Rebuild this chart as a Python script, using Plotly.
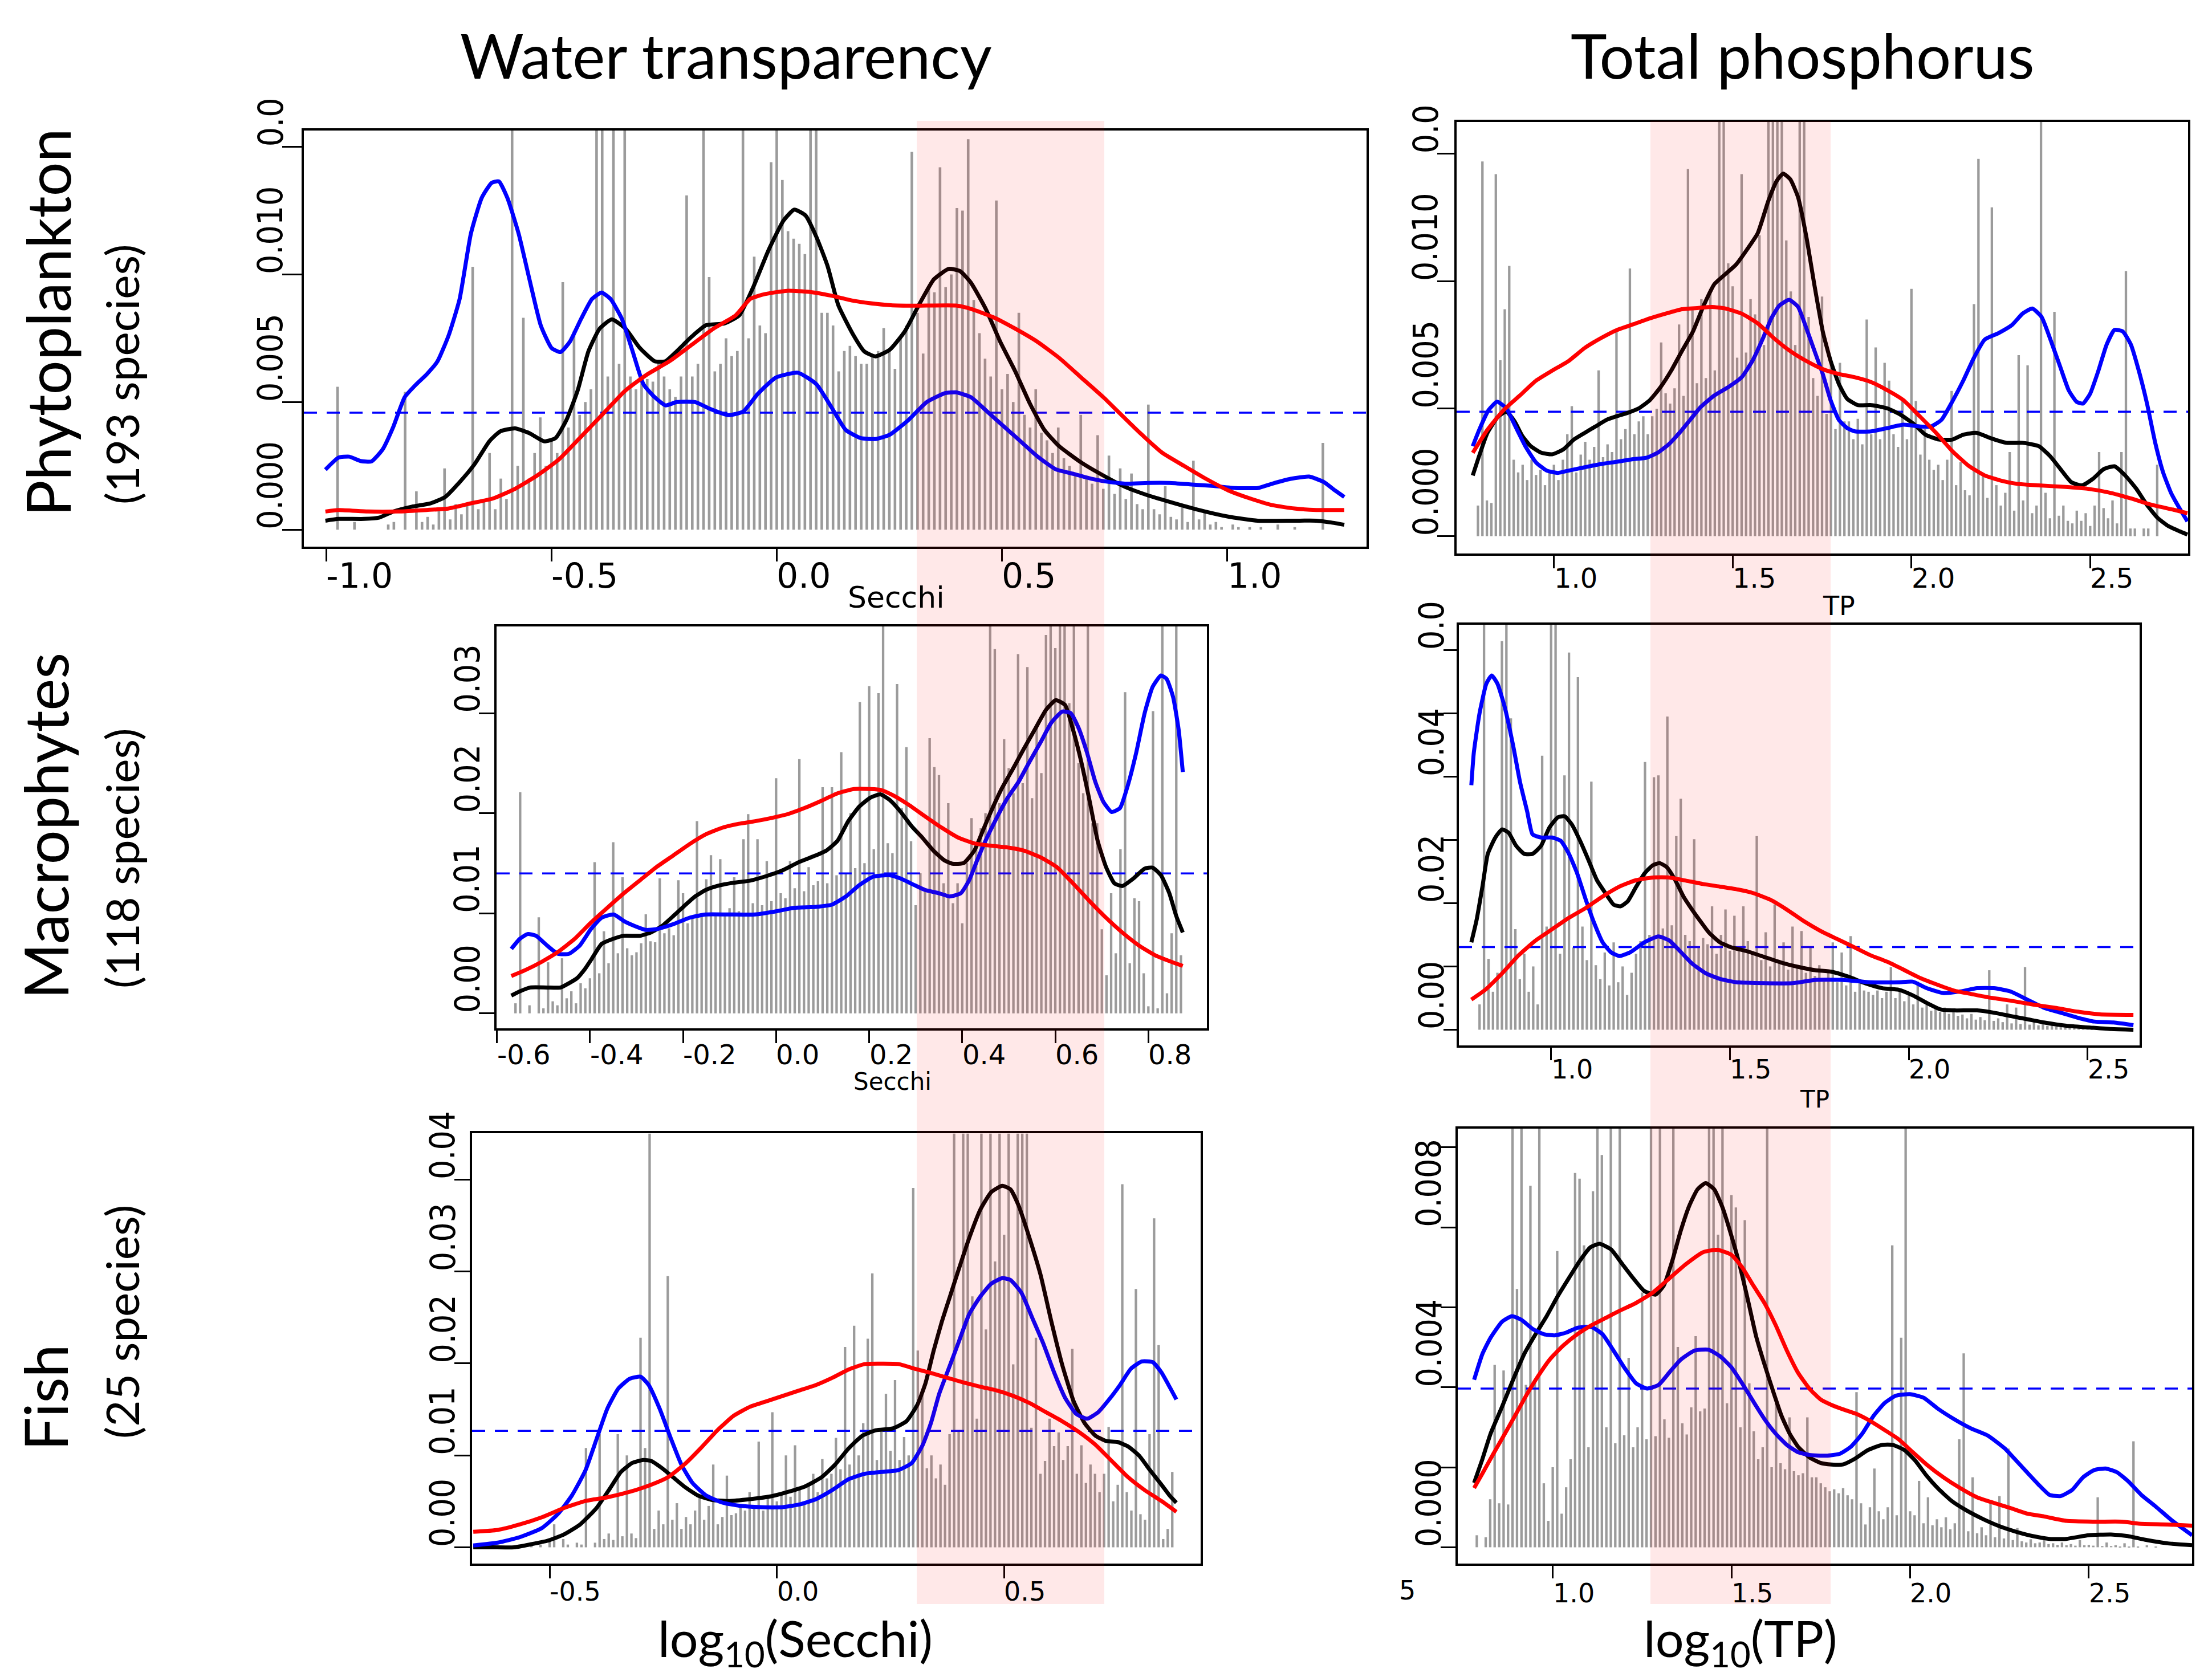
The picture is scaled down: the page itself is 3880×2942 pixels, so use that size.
import plotly.graph_objects as go

W, H = 3880, 2942

# ------------------------------------------------------------------ data
# Gray bars: first bin centre, bin width, unit of the listed heights
P1_BINS = (-0.975, 0.0125, 1e-4)
P1_BARS = [56,0,0,3,0,0,0,0, 0,2,3,0,54,0,15,3, 5,2,8,24,4,10,6,10, 103,8,12,30,8,20,12,170,
           25,83,20,30,44,25,35,30, 97,40,78,45,50,55,170,170, 60,170,65,170,60,55,60,59,
           58,66,60,55,52,60,131,60, 65,170,99,62,65,75,68,70, 170,75,107,80,77,144,170,137,
           117,114,112,108,170,170,85,85, 80,62,70,72,68,65,65,68, 70,79,70,63,75,80,148,85,
           69,95,93,142,95,100,126,125, 153,90,77,67,60,129,55,61, 50,85,45,40,55,38,35,30,
           40,28,25,22,45,20,18,37, 16,29,14,24,12,22,10,8, 49,8,6,17,5,4,10,3,
           27,4,7,2,3,1,0,2, 1,0,1,0,1,0,0,2, 0,0,1,0,0,0,0,34, 0]
P2_BINS = (0.7875, 0.0125, 1e-4)
P2_BARS = [12,147,14,13,142,69,89,106, 30,25,28,22,30,24,26,20, 25,28,22,30,40,51,25,32,
           37,30,35,65,31,36,33,80, 38,42,105,40,45,47,40,47, 50,76,56,52,58,83,55,144,
           90,60,93,62,97,65,170,170, 107,98,70,142,72,93,87,118, 75,170,170,170,170,116,96,75,
           170,170,86,62,55,94,48,69, 42,68,45,45,38,46,36,85, 40,74,38,68,61,40,35,53,
           38,97,53,32,42,30,26,28, 22,30,57,20,29,18,16,91, 148,24,15,129,20,12,17,33,
           10,71,14,67,9,12,170,17, 7,88,8,12,6,5,10,6, 9,4,12,33,11,7,14,5,
           33,104,3,3,0,3,3,0, 28]
P3_BINS = (-0.56, 0.01, 1e-4)
P3_BARS = [10,221,0,8,0,96,5,51, 12,8,55,15,22,10,30,25, 35,151,40,82,50,171,60,136,
           65,58,61,70,99,72,71,135, 80,85,78,133,120,90,95,192, 100,134,158,98,154,100,105,136,
           102,174,199,110,174,108,152,112, 235,120,115,152,125,254,122,146,
           128,132,226,130,226,138,261,140, 200,145,311,150,327,164,320,400,
           170,160,329,205,266,172,108,140, 125,275,246,238,130,210,110,130,
           90,150,195,165,185,200,400,364, 210,274,245,220,359,230,346,215,
           285,240,378,400,365,400,400,310, 400,250,220,400,190,190,84,38,
           120,60,164,321,50,115,112,40, 7,302,5,400,20,80,400,58]
P4_BINS = (0.80, 0.0125, 1e-4)
P4_BARS = [40,650,112,60,90,614,650,492, 159,80,120,60,100,40,433,163, 650,650,120,402,596,130,557,163,
           110,392,102,80,122,70,138,75, 100,55,90,120,140,423,150,399, 402,160,495,165,306,365,150,140,
           301,130,145,135,195,120,150,190, 125,180,130,195,140,120,306,110,
           154,100,198,105,138,95,163,100, 156,90,130,85,102,80,95,138, 75,122,70,148,60,75,62,60,
           55,62,50,60,99,50,60,45, 55,40,76,35,42,30,35,28, 35,25,30,22,24,18,25,16,
           20,15,94,14,18,12,40,10, 35,9,99,8,14,7,12,6, 8,5,10,4,6,3,5,6, 3,2,4,2,3,1,2,1, 2]
P5_BINS = (-0.60, 0.01, 1e-4)
P5_BARS = [0,0,0,0,0,0,2,0, 3,0,9,25,0,9,3,0, 5,3,108,0,5,123,9,15, 8,123,12,100,15,10,228,108,
           450,20,40,25,295,30,48,20, 33,25,40,56,30,45,90,25, 33,78,35,37,45,40,60,45,
           115,40,55,147,50,60,100,55, 111,65,48,70,80,60,96,75, 80,119,85,218,90,241,100,135,
           227,298,95,128,167,105,182,95, 120,100,391,214,167,86,100,75, 90,68,123,450,127,450,450,273,
           140,450,237,450,311,450,340,450, 199,450,450,450,130,228,80,94, 140,110,125,95,110,216,80,111,
           70,90,80,60,80,131,50,68, 395,60,40,281,36,30,123,358, 220,9,20,82]
P6_BINS = (0.7875, 0.0125, 1e-5)
P6_BARS = [30,0,25,120,456,110,442,107, 1200,646,1200,406,904,415,1200,160, 66,200,741,84,150,220,936,922,
           755,250,890,1200,981,300,1200,260, 1200,280,474,250,300,637,270,1200,
           278,1200,320,274,1200,501,310,282, 350,528,340,347,1200,1200,782,1200,
           360,881,850,300,818,410,290,220, 250,1200,200,365,210,195,325,190,
           180,185,325,175,175,160,150,140, 145,135,148,130,120,388,110,57,
           100,197,90,70,100,755,80,524, 1200,90,80,166,60,125,55,70, 50,75,45,60,270,485,40,175,
           35,50,30,110,25,128,22,247, 18,48,15,12,20,10,12,20, 8,10,6,12,5,8,4,18,
           5,6,4,125,3,12,3,5, 2,10,2,265,2,0,5,0, 2]

# Curves: (x, density)
P1_BLACK = [(-1.002,0.00035),(-0.973,0.00042),(-0.916,0.00042),(-0.883,0.00047),(-0.851,0.00071),(-0.81,0.0009),
            (-0.769,0.00103),(-0.736,0.00128),(-0.704,0.00186),(-0.671,0.00256),(-0.638,0.00346),(-0.614,0.00385),
            (-0.581,0.00397),(-0.549,0.00378),(-0.516,0.00346),(-0.491,0.00359),(-0.467,0.00429),(-0.442,0.00545),
            (-0.418,0.00699),(-0.393,0.00788),(-0.366,0.00824),(-0.336,0.00788),(-0.304,0.00712),(-0.271,0.0066),
            (-0.247,0.0066),(-0.222,0.00699),(-0.189,0.00756),(-0.157,0.00801),(-0.116,0.00808),(-0.083,0.0084),
            (-0.051,0.00955),(-0.018,0.01096),(0.015,0.01211),(0.039,0.01254),(0.064,0.01231),(0.088,0.01147),
            (0.113,0.01032),(0.137,0.00878),(0.17,0.00763),(0.194,0.00699),(0.219,0.00679),(0.251,0.00705),
            (0.284,0.00776),(0.317,0.00885),(0.349,0.00981),(0.382,0.01022),(0.407,0.01013),(0.431,0.00968),
            (0.464,0.00865),(0.496,0.00737),(0.529,0.00622),(0.562,0.00494),(0.594,0.00391),(0.627,0.00327),
            (0.676,0.00263),(0.725,0.00212),(0.774,0.00167),(0.823,0.00135),(0.872,0.00109),(0.937,0.00077),
            (1.002,0.00051),(1.068,0.00035),(1.149,0.00035),(1.198,0.00035),(1.231,0.00028),(1.26,0.00019)]
P1_BLUE = [(-1.002,0.00235),(-0.973,0.00282),(-0.949,0.00286),(-0.924,0.00269),(-0.9,0.00267),(-0.875,0.00314),
           (-0.851,0.00404),(-0.826,0.00519),(-0.80,0.0057),(-0.777,0.00609),(-0.753,0.0066),(-0.728,0.00763),
           (-0.704,0.00904),(-0.679,0.0116),(-0.655,0.0130),(-0.633,0.01359),(-0.617,0.01365),(-0.598,0.0130),
           (-0.573,0.0116),(-0.549,0.00981),(-0.524,0.00801),(-0.50,0.00712),(-0.48,0.00696),(-0.459,0.00737),
           (-0.434,0.00827),(-0.41,0.00904),(-0.389,0.00929),(-0.369,0.00904),(-0.344,0.00827),(-0.32,0.00699),
           (-0.296,0.0057),(-0.271,0.00519),(-0.247,0.00487),(-0.222,0.005),(-0.181,0.005),(-0.149,0.00474),
           (-0.108,0.00449),(-0.075,0.00462),(-0.042,0.00532),(-0.002,0.00596),(0.047,0.00615),(0.088,0.0057),
           (0.121,0.00481),(0.153,0.00391),(0.186,0.00359),(0.219,0.00355),(0.251,0.00372),(0.292,0.00429),
           (0.333,0.005),(0.374,0.00535),(0.398,0.00538),(0.431,0.00519),(0.464,0.00468),(0.496,0.00417),
           (0.537,0.00353),(0.578,0.00288),(0.619,0.00237),(0.66,0.00218),(0.70,0.00199),(0.741,0.00186),
           (0.782,0.0018),(0.823,0.00183),(0.872,0.00183),(0.921,0.00177),(0.97,0.00171),(1.019,0.00163),
           (1.068,0.00163),(1.10,0.0018),(1.141,0.00199),(1.182,0.00208),(1.215,0.00186),(1.239,0.00154),(1.26,0.00128)]
P1_RED = [(-1.002,0.00071),(-0.973,0.00077),(-0.908,0.00071),(-0.842,0.00071),(-0.777,0.00077),(-0.728,0.00083),
          (-0.679,0.00103),(-0.63,0.00122),(-0.581,0.0016),(-0.532,0.00212),(-0.483,0.00276),(-0.434,0.00365),
          (-0.385,0.00455),(-0.336,0.00545),(-0.287,0.00609),(-0.238,0.0066),(-0.189,0.00724),(-0.14,0.00788),
          (-0.091,0.0084),(-0.059,0.00904),(-0.026,0.00923),(0.023,0.00936),(0.072,0.00932),(0.121,0.00917),
          (0.17,0.00897),(0.219,0.00885),(0.268,0.00878),(0.333,0.00878),(0.398,0.00878),(0.431,0.00865),
          (0.48,0.00833),(0.529,0.00788),(0.578,0.00737),(0.627,0.00673),(0.676,0.00596),(0.725,0.00519),
          (0.758,0.00462),(0.807,0.00378),(0.856,0.00301),(0.904,0.0025),(0.953,0.00199),(1.002,0.00154),
          (1.051,0.00122),(1.10,0.00096),(1.149,0.00083),(1.198,0.00077),(1.26,0.00077)]

P2_BLACK = [(0.773,0.00238),(0.791,0.00315),(0.814,0.00405),(0.844,0.00469),(0.867,0.00488),(0.89,0.0045),
            (0.912,0.00392),(0.935,0.00353),(0.965,0.00327),(0.995,0.00321),(1.026,0.0034),(1.056,0.00379),
            (1.086,0.00405),(1.116,0.0043),(1.147,0.00456),(1.177,0.00471),(1.207,0.00484),(1.237,0.00501),
            (1.268,0.00533),(1.298,0.00584),(1.328,0.00649),(1.358,0.00726),(1.389,0.00803),(1.419,0.00905),
            (1.449,0.00989),(1.479,0.01027),(1.51,0.01066),(1.54,0.01124),(1.57,0.01188),(1.6,0.01316),
            (1.623,0.01393),(1.641,0.01422),(1.661,0.014),(1.683,0.01329),(1.706,0.01175),(1.729,0.00982),
            (1.752,0.00803),(1.774,0.00687),(1.797,0.00597),(1.82,0.00539),(1.85,0.00514),(1.888,0.00514),
            (1.933,0.00501),(1.971,0.00475),(2.009,0.00437),(2.039,0.00398),(2.077,0.00379),(2.115,0.00379),
            (2.145,0.00398),(2.183,0.00405),(2.22,0.00385),(2.266,0.00366),(2.311,0.00366),(2.356,0.00353),
            (2.387,0.00315),(2.417,0.00263),(2.447,0.00212),(2.477,0.00199),(2.508,0.00225),(2.538,0.00263),
            (2.568,0.00274),(2.598,0.00238),(2.629,0.00186),(2.659,0.00122),(2.689,0.00071),(2.719,0.00039),
            (2.75,0.00019),(2.772,0.00006)]
P2_BLUE = [(0.773,0.00353),(0.791,0.00417),(0.817,0.00494),(0.841,0.00527),(0.867,0.00501),(0.89,0.00437),
           (0.92,0.00353),(0.95,0.00289),(0.98,0.00257),(1.011,0.00248),(1.041,0.00257),(1.086,0.0027),
           (1.132,0.00283),(1.177,0.00292),(1.222,0.00302),(1.26,0.00308),(1.29,0.00327),(1.321,0.0036),
           (1.351,0.00405),(1.381,0.00456),(1.411,0.00507),(1.449,0.00552),(1.487,0.00584),(1.525,0.00623),
           (1.555,0.00687),(1.585,0.00777),(1.608,0.00854),(1.631,0.00905),(1.658,0.00927),(1.683,0.00899),
           (1.706,0.00816),(1.729,0.00726),(1.752,0.00636),(1.774,0.00533),(1.797,0.00456),(1.82,0.00424),
           (1.842,0.00411),(1.888,0.00411),(1.933,0.00424),(1.978,0.00437),(2.024,0.0043),(2.054,0.0043),
           (2.084,0.00456),(2.114,0.00527),(2.145,0.0061),(2.175,0.007),(2.205,0.00771),(2.243,0.00796),
           (2.281,0.00828),(2.311,0.00873),(2.338,0.00893),(2.364,0.0086),(2.394,0.00751),(2.417,0.00661),
           (2.44,0.00572),(2.462,0.00527),(2.48,0.0052),(2.5,0.00559),(2.523,0.00649),(2.546,0.00751),
           (2.568,0.00809),(2.591,0.00803),(2.614,0.00751),(2.636,0.00649),(2.659,0.0052),(2.682,0.00366),
           (2.704,0.0025),(2.727,0.00167),(2.75,0.00109),(2.772,0.00058)]
P2_RED = [(0.773,0.00327),(0.814,0.00417),(0.859,0.00494),(0.905,0.00552),(0.95,0.0061),(0.995,0.00649),
          (1.041,0.00687),(1.086,0.00738),(1.132,0.00777),(1.177,0.00809),(1.222,0.00831),(1.268,0.00854),
          (1.313,0.00873),(1.358,0.0089),(1.404,0.00895),(1.442,0.00899),(1.479,0.00893),(1.525,0.00873),
          (1.57,0.00835),(1.615,0.00777),(1.661,0.00726),(1.706,0.00687),(1.752,0.00655),(1.797,0.00636),
          (1.842,0.00623),(1.888,0.00604),(1.933,0.00572),(1.978,0.00533),(2.024,0.00469),(2.069,0.00405),
          (2.114,0.00334),(2.16,0.00276),(2.205,0.00238),(2.25,0.00218),(2.296,0.00205),(2.356,0.00199),
          (2.432,0.00193),(2.492,0.00186),(2.553,0.00171),(2.614,0.00148),(2.674,0.00122),(2.735,0.00103),
          (2.772,0.0009)]

P3_BLACK = [(-0.569,0.00177),(-0.551,0.00219),(-0.528,0.00258),(-0.492,0.00258),(-0.463,0.00258),(-0.445,0.00301),
            (-0.428,0.0035),(-0.41,0.00448),(-0.396,0.00546),(-0.375,0.00693),(-0.351,0.00743),(-0.327,0.00775),
            (-0.292,0.00775),(-0.269,0.00808),(-0.245,0.00873),(-0.221,0.00971),(-0.198,0.0107),(-0.174,0.01168),
            (-0.151,0.01233),(-0.127,0.01272),(-0.092,0.01305),(-0.057,0.01325),(-0.021,0.01371),(0.014,0.01429),
            (0.049,0.01511),(0.085,0.01577),(0.108,0.01626),(0.132,0.01724),(0.155,0.0192),(0.179,0.02067),
            (0.203,0.02156),(0.224,0.02188),(0.244,0.02133),(0.267,0.02018),(0.291,0.01871),(0.314,0.01757),
            (0.338,0.01626),(0.362,0.01528),(0.379,0.01495),(0.403,0.01501),(0.426,0.01626),(0.444,0.01822),
            (0.462,0.02018),(0.485,0.02247),(0.509,0.02443),(0.532,0.0264),(0.556,0.02836),(0.58,0.03032),
            (0.601,0.0313),(0.621,0.03081),(0.638,0.02836),(0.656,0.02509),(0.674,0.02116),(0.691,0.01724),
            (0.709,0.01462),(0.727,0.01299),(0.744,0.01272),(0.768,0.01348),(0.792,0.01446),(0.809,0.01456),
            (0.827,0.0138),(0.845,0.012),(0.86,0.00971),(0.874,0.00808)]
P3_BLUE = [(-0.569,0.00644),(-0.551,0.00743),(-0.534,0.00792),(-0.516,0.00775),(-0.492,0.00677),(-0.469,0.00595),
           (-0.445,0.00595),(-0.422,0.00677),(-0.398,0.00841),(-0.375,0.00955),(-0.349,0.00988),(-0.327,0.00922),
           (-0.304,0.00873),(-0.28,0.00834),(-0.257,0.00841),(-0.221,0.0089),(-0.186,0.00955),(-0.151,0.00988),
           (-0.104,0.00988),(-0.045,0.00988),(0.002,0.01021),(0.038,0.01053),(0.085,0.01063),(0.12,0.01086),
           (0.15,0.01168),(0.179,0.01282),(0.208,0.01364),(0.244,0.0138),(0.267,0.01348),(0.297,0.01282),
           (0.32,0.01233),(0.35,0.012),(0.373,0.01168),(0.397,0.012),(0.415,0.01331),(0.432,0.01528),
           (0.45,0.01724),(0.474,0.01953),(0.497,0.02149),(0.521,0.02313),(0.544,0.02509),(0.568,0.02705),
           (0.591,0.02901),(0.615,0.03016),(0.633,0.03),(0.65,0.02852),(0.668,0.02607),(0.686,0.02313),
           (0.703,0.02116),(0.721,0.02012),(0.739,0.02051),(0.756,0.0228),(0.774,0.02607),(0.792,0.03),
           (0.809,0.03261),(0.827,0.03376),(0.839,0.03343),(0.853,0.03163),(0.865,0.02836),(0.874,0.02411)]
P3_RED = [(-0.569,0.00373),(-0.539,0.00432),(-0.504,0.00514),(-0.469,0.00612),(-0.433,0.00743),(-0.398,0.00906),
          (-0.363,0.01053),(-0.327,0.012),(-0.292,0.01331),(-0.257,0.01462),(-0.221,0.01577),(-0.186,0.01691),
          (-0.151,0.01789),(-0.115,0.01855),(-0.08,0.01894),(-0.045,0.0192),(-0.009,0.01953),(0.026,0.01992),
          (0.061,0.02051),(0.097,0.02123),(0.132,0.02198),(0.167,0.02241),(0.203,0.02241),(0.226,0.02231),
          (0.25,0.02182),(0.285,0.02084),(0.32,0.01969),(0.356,0.01855),(0.391,0.01757),(0.426,0.01698),
          (0.462,0.01675),(0.497,0.01658),(0.532,0.01626),(0.568,0.0156),(0.603,0.01462),(0.638,0.01299),
          (0.674,0.01119),(0.709,0.00955),(0.744,0.00808),(0.78,0.00677),(0.815,0.00579),(0.85,0.00514),
          (0.874,0.00474)]

P4_BLACK = [(0.777,0.01381),(0.792,0.01743),(0.808,0.02261),(0.823,0.02778),(0.844,0.03037),(0.863,0.03166),
            (0.881,0.03114),(0.902,0.02907),(0.925,0.02778),(0.948,0.02778),(0.972,0.02907),(0.995,0.03192),
            (1.019,0.03357),(1.038,0.03373),(1.058,0.03243),(1.081,0.02985),(1.105,0.02674),(1.128,0.02364),
            (1.152,0.02157),(1.175,0.01976),(1.194,0.0195),(1.214,0.02028),(1.238,0.02261),(1.261,0.02468),
            (1.284,0.02597),(1.303,0.02633),(1.323,0.02571),(1.347,0.02364),(1.37,0.02105),(1.394,0.01898),
            (1.417,0.01717),(1.441,0.01536),(1.472,0.01381),(1.503,0.01304),(1.55,0.01236),(1.597,0.01148),
            (1.644,0.0106),(1.691,0.00993),(1.738,0.00941),(1.784,0.00916),(1.831,0.00838),(1.878,0.00735),
            (1.925,0.00657),(1.972,0.00631),(2.011,0.00543),(2.05,0.00424),(2.089,0.00321),(2.128,0.00305),
            (2.191,0.00305),(2.238,0.00269),(2.284,0.00217),(2.331,0.00166),(2.378,0.00114),(2.441,0.00062),
            (2.503,0.00036),(2.566,0.0001),(2.628,0.0)]
P4_BLUE = [(0.777,0.03864),(0.784,0.04382),(0.8,0.05002),(0.819,0.05468),(0.834,0.05597),(0.85,0.05468),
           (0.87,0.05106),(0.894,0.04485),(0.913,0.03916),(0.933,0.0345),(0.948,0.03088),(0.972,0.03037),
           (1.003,0.03037),(1.027,0.02985),(1.05,0.02778),(1.073,0.02468),(1.097,0.02054),(1.12,0.01692),
           (1.144,0.01381),(1.167,0.01226),(1.191,0.01164),(1.222,0.01226),(1.261,0.01381),(1.3,0.01474),
           (1.331,0.01407),(1.363,0.01226),(1.394,0.01045),(1.433,0.0089),(1.472,0.00802),(1.519,0.0075),
           (1.597,0.00735),(1.675,0.00735),(1.738,0.00786),(1.816,0.00786),(1.894,0.0075),(1.972,0.0075),
           (2.011,0.0076),(2.05,0.00657),(2.097,0.00579),(2.144,0.00605),(2.191,0.00657),(2.238,0.00657),
           (2.284,0.00605),(2.331,0.00476),(2.378,0.00347),(2.425,0.00269),(2.472,0.00191),(2.519,0.00129),
           (2.573,0.00114),(2.628,0.00072)]
P4_RED = [(0.777,0.00476),(0.816,0.00631),(0.863,0.0089),(0.909,0.01174),(0.956,0.01407),(1.003,0.01588),
          (1.05,0.01769),(1.097,0.01924),(1.144,0.02105),(1.191,0.02261),(1.238,0.02364),(1.284,0.02405),
          (1.331,0.02405),(1.378,0.02354),(1.425,0.02302),(1.472,0.02261),(1.519,0.02219),(1.566,0.02157),
          (1.613,0.02054),(1.659,0.01898),(1.706,0.01717),(1.753,0.01562),(1.8,0.01433),(1.847,0.01304),
          (1.894,0.01174),(1.941,0.01071),(1.988,0.00941),(2.034,0.00812),(2.081,0.00709),(2.128,0.00616),
          (2.175,0.00564),(2.222,0.00512),(2.284,0.0046),(2.347,0.00398),(2.409,0.00347),(2.472,0.00285),
          (2.534,0.00243),(2.628,0.00233)]

P5_BLACK = [(-0.668,0.0),(-0.626,0.0),(-0.578,0.0),(-0.542,0.00032),(-0.505,0.00071),(-0.469,0.00138),
            (-0.433,0.00248),(-0.397,0.00426),(-0.367,0.00642),(-0.343,0.0082),(-0.318,0.00918),(-0.294,0.0095),
            (-0.276,0.00938),(-0.252,0.00859),(-0.228,0.00761),(-0.204,0.00662),(-0.174,0.00564),(-0.144,0.00516),
            (-0.107,0.00504),(-0.059,0.00524),(-0.011,0.00556),(0.025,0.00603),(0.062,0.00662),(0.098,0.00761),
            (0.128,0.00899),(0.158,0.01076),(0.188,0.01214),(0.218,0.01273),(0.255,0.01293),(0.285,0.01371),
            (0.309,0.01549),(0.327,0.01785),(0.345,0.0214),(0.363,0.02455),(0.381,0.02731),(0.399,0.03007),
            (0.423,0.03362),(0.448,0.03677),(0.472,0.03866),(0.496,0.03933),(0.514,0.03894),(0.532,0.03716),
            (0.556,0.03362),(0.58,0.02968),(0.604,0.02455),(0.628,0.01982),(0.653,0.01588),(0.677,0.01352),
            (0.701,0.01214),(0.725,0.01155),(0.749,0.01147),(0.773,0.01096),(0.797,0.00997),(0.821,0.00839),
            (0.846,0.00682),(0.864,0.00564),(0.879,0.00485)]
P5_BLUE = [(-0.668,0.0002),(-0.614,0.00051),(-0.566,0.0011),(-0.517,0.00209),(-0.481,0.00367),(-0.451,0.00564),
           (-0.421,0.00839),(-0.397,0.01174),(-0.373,0.01509),(-0.349,0.01726),(-0.324,0.01833),(-0.3,0.01856),
           (-0.282,0.01766),(-0.258,0.01509),(-0.234,0.01194),(-0.21,0.00899),(-0.186,0.00702),(-0.156,0.00564),
           (-0.119,0.00485),(-0.083,0.00453),(-0.035,0.00437),(0.013,0.00437),(0.049,0.00465),(0.086,0.00524),
           (0.122,0.00623),(0.158,0.00741),(0.194,0.008),(0.23,0.0082),(0.267,0.00839),(0.297,0.00918),
           (0.321,0.01115),(0.339,0.01352),(0.357,0.01667),(0.375,0.01903),(0.399,0.02219),(0.423,0.02534),
           (0.448,0.02731),(0.472,0.02869),(0.496,0.02928),(0.514,0.02908),(0.538,0.0277),(0.562,0.02495),
           (0.586,0.02219),(0.61,0.01903),(0.634,0.01628),(0.659,0.0145),(0.683,0.01399),(0.707,0.0147),
           (0.731,0.01608),(0.755,0.01766),(0.779,0.01943),(0.803,0.02022),(0.827,0.02014),(0.846,0.01903),
           (0.864,0.01746),(0.879,0.01608)]
P5_RED = [(-0.668,0.00169),(-0.614,0.00189),(-0.566,0.00248),(-0.517,0.00327),(-0.469,0.00426),(-0.421,0.00504),
          (-0.373,0.00544),(-0.324,0.00603),(-0.276,0.00682),(-0.24,0.00761),(-0.204,0.00899),(-0.168,0.01076),
          (-0.131,0.01273),(-0.095,0.01431),(-0.059,0.01529),(-0.023,0.01588),(0.013,0.01647),(0.049,0.01706),
          (0.086,0.01766),(0.122,0.01844),(0.158,0.01935),(0.194,0.01994),(0.23,0.01998),(0.267,0.01994),
          (0.303,0.01943),(0.339,0.01896),(0.375,0.01844),(0.411,0.01793),(0.448,0.01746),(0.484,0.01706),
          (0.52,0.01647),(0.556,0.01569),(0.592,0.0147),(0.628,0.01371),(0.665,0.01253),(0.701,0.01115),
          (0.737,0.00938),(0.773,0.00761),(0.809,0.00623),(0.846,0.00504),(0.879,0.00386)]

P6_BLACK = [(0.78,0.00161),(0.803,0.0022),(0.826,0.00284),(0.858,0.00351),(0.889,0.00419),(0.92,0.00483),
            (0.952,0.00533),(0.983,0.00578),(1.014,0.00628),(1.045,0.00673),(1.077,0.00718),(1.105,0.0075),
            (1.131,0.00759),(1.163,0.00745),(1.194,0.00709),(1.225,0.00673),(1.256,0.00641),(1.288,0.00632),
            (1.311,0.00655),(1.335,0.00718),(1.358,0.00791),(1.382,0.00854),(1.405,0.00895),(1.428,0.00911),
            (1.452,0.00895),(1.475,0.0085),(1.499,0.00782),(1.522,0.00709),(1.546,0.00619),(1.569,0.00528),
            (1.593,0.00456),(1.616,0.00392),(1.64,0.00329),(1.663,0.00284),(1.686,0.00252),(1.718,0.00225),
            (1.749,0.00211),(1.78,0.00207),(1.812,0.00207),(1.843,0.0022),(1.882,0.00243),(1.921,0.00256),
            (1.952,0.00256),(1.984,0.00243),(2.015,0.00216),(2.046,0.00179),(2.077,0.00148),(2.116,0.00116),
            (2.156,0.00093),(2.203,0.00071),(2.249,0.00053),(2.296,0.00039),(2.343,0.00028),(2.39,0.00021),
            (2.437,0.00021),(2.5,0.0003),(2.562,0.00032),(2.609,0.00028),(2.656,0.00019),(2.719,0.0001),
            (2.789,0.00005)]
P6_BLUE = [(0.78,0.00419),(0.803,0.00483),(0.826,0.00524),(0.858,0.00564),(0.886,0.00578),(0.912,0.00569),
           (0.944,0.00546),(0.975,0.00533),(1.006,0.0053),(1.038,0.00537),(1.069,0.00549),(1.108,0.00551),
           (1.139,0.00533),(1.17,0.00492),(1.202,0.00447),(1.233,0.0041),(1.264,0.00397),(1.296,0.00406),
           (1.327,0.00438),(1.358,0.00469),(1.397,0.00492),(1.436,0.00494),(1.468,0.00478),(1.499,0.00451),
           (1.53,0.0041),(1.561,0.00365),(1.593,0.0032),(1.624,0.00284),(1.655,0.00256),(1.686,0.00238),
           (1.718,0.00231),(1.765,0.00229),(1.804,0.00234),(1.835,0.00252),(1.866,0.00284),(1.898,0.00329),
           (1.929,0.00361),(1.96,0.00379),(1.999,0.00383),(2.038,0.00374),(2.077,0.00347),(2.124,0.0032),
           (2.171,0.00297),(2.218,0.00279),(2.265,0.00247),(2.312,0.00202),(2.359,0.00157),(2.39,0.00131),
           (2.421,0.00128),(2.453,0.00143),(2.484,0.00175),(2.515,0.00193),(2.547,0.00197),(2.578,0.00188),
           (2.609,0.00166),(2.648,0.0013),(2.687,0.00102),(2.734,0.00066),(2.789,0.0003)]
P6_RED = [(0.78,0.00148),(0.803,0.00184),(0.834,0.00234),(0.866,0.00284),(0.897,0.00333),(0.928,0.00383),
          (0.959,0.00428),(0.991,0.00469),(1.03,0.00505),(1.069,0.00533),(1.108,0.00555),(1.147,0.00573),
          (1.186,0.00591),(1.233,0.00611),(1.28,0.00637),(1.327,0.00673),(1.374,0.00709),(1.421,0.00738),
          (1.46,0.00744),(1.499,0.00732),(1.53,0.007),(1.561,0.00655),(1.593,0.0061),(1.624,0.00555),
          (1.655,0.00492),(1.686,0.00437),(1.718,0.00397),(1.749,0.0037),(1.78,0.00356),(1.812,0.00345),
          (1.851,0.00333),(1.89,0.00315),(1.929,0.00293),(1.968,0.0027),(2.007,0.00238),(2.046,0.00207),
          (2.093,0.00175),(2.14,0.00148),(2.187,0.00125),(2.234,0.00111),(2.281,0.00098),(2.328,0.00084),
          (2.375,0.00077),(2.437,0.00066),(2.515,0.00064),(2.593,0.00064),(2.64,0.00059),(2.719,0.00057),
          (2.789,0.00054)]

# Dashed horizontal reference level per panel
DASH_LEVELS = [0.00458, 0.00488, 0.01398, 0.01306, 0.01267, 0.00397]

# Axis ticks and their labels
X_TICKS = [[-1.0, -0.5, 0.0, 0.5, 1.0], [1.0, 1.5, 2.0, 2.5],
           [-0.6, -0.4, -0.2, 0.0, 0.2, 0.4, 0.6, 0.8], [1.0, 1.5, 2.0, 2.5],
           [-0.5, 0.0, 0.5], [1.0, 1.5, 2.0, 2.5]]
X_TICK_TEXT = [["-1.0", "-0.5", "0.0", "0.5", "1.0"], ["1.0", "1.5", "2.0", "2.5"],
               ["-0.6", "-0.4", "-0.2", "0.0", "0.2", "0.4", "0.6", "0.8"], ["1.0", "1.5", "2.0", "2.5"],
               ["-0.5", "0.0", "0.5"], ["1.0", "1.5", "2.0", "2.5"]]
Y_TICKS = [[0.0, 0.005, 0.010, 0.015], [0.0, 0.005, 0.010, 0.015],
           [0.0, 0.01, 0.02, 0.03], [0.0, 0.01, 0.02, 0.03, 0.04, 0.05, 0.06],
           [0.0, 0.01, 0.02, 0.03, 0.04], [0.0, 0.002, 0.004, 0.006, 0.008, 0.010]]
Y_TICK_TEXT = [["0.000", "0.005", "0.010", "0.0"], ["0.000", "0.005", "0.010", "0.0"],
               ["0.00", "0.01", "0.02", "0.03"], ["0.00", "", "0.02", "", "0.04", "", "0.0"],
               ["0.00", "0.01", "0.02", "0.03", "0.04"], ["0.000", "", "0.004", "", "0.008", ""]]
X_RANGES = [[-1.0498, 1.3094], [0.7278, 2.7738], [-0.6007, 0.9258],
            [0.7422, 2.6453], [-0.6707, 0.9324], [0.7342, 2.7889]]
Y_RANGES = [[-0.000667, 0.01564], [-0.000681, 0.016246], [-0.0015, 0.03866],
            [-0.00248, 0.06399], [-0.00177, 0.04505], [-0.000408, 0.01047]]

# ------------------------------------------------------------------ layout (pixels)
BOXES = [(533, 2397, 229, 959), (2555, 3838, 214, 971), (871, 2117, 1099, 1804),
         (2559, 3753, 1096, 1834), (828, 2106, 1988, 2743), (2557, 3845, 1980, 2743)]
BAR_PX = [4.6, 4.3, 4.3, 4.3, 4.3, 4.3]
Y_TICKLEN = [34, 30, 27, 23, 27, 26]
X_LAB_GAP = [27, 24, 27, 23, 30, 33]
X_LAB_SIZE = [60, 48, 48, 46, 46, 46]
Y_LAB_SIZE = 60
Y_LAB_FONT = "Liberation Sans Narrow, Arial Narrow, DejaVu Sans Condensed, DejaVu Sans"
GRAY = "#9B9B9B"
BLUE, BLACK, RED = "#0000FF", "#000000", "#FF0000"
CURVE_W = 7

bars = [(P1_BINS, P1_BARS), (P2_BINS, P2_BARS), (P3_BINS, P3_BARS),
        (P4_BINS, P4_BARS), (P5_BINS, P5_BARS), (P6_BINS, P6_BARS)]
curves = [(P1_BLACK, P1_BLUE, P1_RED), (P2_BLACK, P2_BLUE, P2_RED), (P3_BLACK, P3_BLUE, P3_RED),
          (P4_BLACK, P4_BLUE, P4_RED), (P5_BLACK, P5_BLUE, P5_RED), (P6_BLACK, P6_BLUE, P6_RED)]

fig = go.Figure()
annotations = []
layout = {}


def paper(xp, yp):
    return xp / W, 1 - yp / H


for k in range(6):
    suffix = "" if k == 0 else str(k + 1)
    xa, ya = "x" + suffix, "y" + suffix
    left, right, top, bottom = BOXES[k]
    xr, yr = X_RANGES[k], Y_RANGES[k]
    px_per_unit = (right - left) / (xr[1] - xr[0])

    (start, step, unit), heights = bars[k]
    centers = [start + i * step for i in range(len(heights))]
    fig.add_trace(go.Bar(x=centers, y=[h * unit for h in heights], width=BAR_PX[k] / px_per_unit,
                         marker=dict(color=GRAY, line=dict(width=0)), xaxis=xa, yaxis=ya,
                         showlegend=False, hoverinfo="skip"))
    fig.add_trace(go.Scatter(x=xr, y=[DASH_LEVELS[k]] * 2, mode="lines",
                             line=dict(color=BLUE, width=3.5, dash="23px,17px"),
                             xaxis=xa, yaxis=ya, showlegend=False, hoverinfo="skip"))
    for pts, col in zip(curves[k], (BLACK, BLUE, RED)):
        fig.add_trace(go.Scatter(x=[p[0] for p in pts], y=[p[1] for p in pts], mode="lines",
                                 line=dict(color=col, width=CURVE_W, shape="spline", smoothing=0.5),
                                 xaxis=xa, yaxis=ya, showlegend=False, hoverinfo="skip"))

    layout["xaxis" + suffix] = dict(domain=[left / W, right / W], range=xr, anchor=ya,
                                    tickmode="array", tickvals=X_TICKS[k], ticks="outside", ticklen=22,
                                    tickwidth=3, tickcolor="black", showticklabels=False,
                                    showline=True, mirror=True, linewidth=4, linecolor="black",
                                    showgrid=False, zeroline=False, fixedrange=True)
    layout["yaxis" + suffix] = dict(domain=[1 - bottom / H, 1 - top / H], range=yr, anchor=xa,
                                    tickmode="array", tickvals=Y_TICKS[k], ticks="outside",
                                    ticklen=Y_TICKLEN[k], tickwidth=3, tickcolor="black",
                                    showticklabels=False, showline=True, mirror=True, linewidth=4,
                                    linecolor="black", showgrid=False, zeroline=False, fixedrange=True)

    fs = X_LAB_SIZE[k]
    for v, t in zip(X_TICKS[k], X_TICK_TEXT[k]):
        annotations.append(dict(x=v, xref=xa, y=0, yref=ya + " domain", text=t, showarrow=False,
                                xanchor="left", yanchor="top", yshift=-(X_LAB_GAP[k] - 0.2 * fs - 1),
                                xshift=-2, font=dict(family="DejaVu Sans", size=fs, color="black")))
    for v, t in zip(Y_TICKS[k], Y_TICK_TEXT[k]):
        if not t:
            continue
        annotations.append(dict(x=0, xref=xa + " domain", y=v, yref=ya, text=t, showarrow=False,
                                textangle=-90, xanchor="right", yanchor="bottom",
                                xshift=-(Y_TICKLEN[k] - 0.21 * Y_LAB_SIZE), yshift=-2,
                                font=dict(family=Y_LAB_FONT, size=Y_LAB_SIZE, color="black")))

# Pink highlight bands across each column (pixels)
BANDS = [(1608, 1937), (2895, 3211)]
BAND_TOP, BAND_BOTTOM = 212, 2814
shapes = []
for x0, x1 in BANDS:
    shapes.append(dict(type="rect", xref="paper", yref="paper", x0=x0 / W, x1=x1 / W,
                       y0=1 - BAND_BOTTOM / H, y1=1 - BAND_TOP / H,
                       fillcolor="rgba(255,0,0,0.09)", line=dict(width=0), layer="above"))

# Text labels (pixel centres)
TEXTS = [
    ("Water transparency", 1273, 96, "Lato", 108, 0),
    ("Total phosphorus", 3162, 96, "Lato", 108, 0),
    ("Phytoplankton", 83, 566, "Lato", 106, -90),
    ("(193 species)", 213, 657, "Lato", 80, -90),
    ("Macrophytes", 79, 1449, "Lato", 106, -90),
    ("(118 species)", 213, 1506, "Lato", 80, -90),
    ("Fish", 78, 2452, "Lato", 104, -90),
    ("(25 species)", 213, 2319, "Lato", 80, -90),
    ("log<sub>10</sub>(Secchi)", 1395, 2879, "Lato", 88, 0),
    ("log<sub>10</sub>(TP)", 3052, 2879, "Lato", 88, 0),
    ("Secchi", 1572, 1048, "DejaVu Sans", 52, 0),
    ("Secchi", 1565, 1897, "DejaVu Sans", 42, 0),
    ("TP", 3225, 1063, "DejaVu Sans", 46, 0),
    ("TP", 3183, 1928, "DejaVu Sans", 42, 0),
    ("5", 2468, 2790, "DejaVu Sans", 46, 0),
]
for txt, xp, yp, fam, size, ang in TEXTS:
    px_, py_ = paper(xp, yp)
    annotations.append(dict(x=px_, y=py_, xref="paper", yref="paper", text=txt, showarrow=False,
                            xanchor="center", yanchor="middle", textangle=ang,
                            font=dict(family=fam, size=size, color="black")))

fig.update_layout(width=W, height=H, margin=dict(l=0, r=0, t=0, b=0),
                  paper_bgcolor="white", plot_bgcolor="white",
                  annotations=annotations, shapes=shapes, showlegend=False, **layout)

fig.write_html("out.html")
